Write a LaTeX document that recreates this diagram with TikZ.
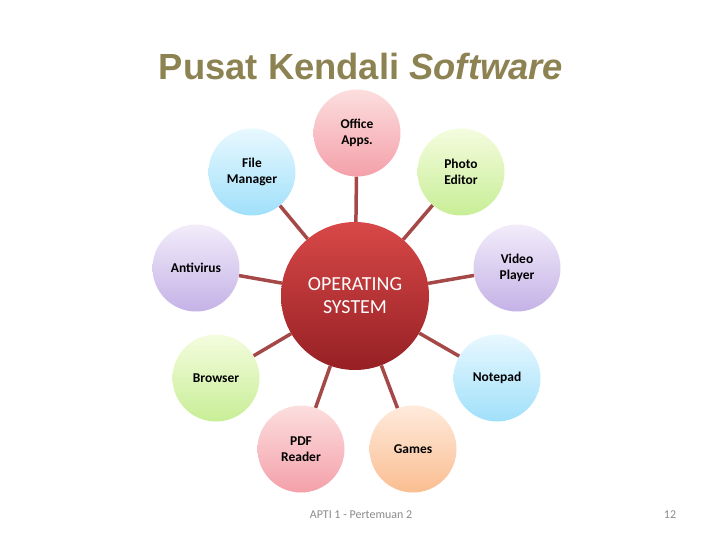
\documentclass[tikz,border=0pt]{standalone}
\usepackage{fontspec}
\setmainfont{Carlito}
\newfontfamily\titlefont{Liberation Sans}
\definecolor{titlec}{RGB}{140,130,82}
\definecolor{linkc}{RGB}{165,72,72}
\definecolor{footc}{RGB}{138,138,138}
\begin{document}
\begin{tikzpicture}[x=1bp,y=-1bp,
  sat/.style={circle, minimum size=87bp, inner sep=0pt, align=center,
    font=\bfseries\fontsize{13.5}{15.5}\selectfont, text=black},
  link/.style={draw=linkc, line width=3.5bp},
  pinkc/.style={top color={rgb,255:red,252;green,222;blue,222}, bottom color={rgb,255:red,244;green,160;blue,170}},
  cyanc/.style={top color={rgb,255:red,232;green,248;blue,255}, bottom color={rgb,255:red,160;green,224;blue,250}},
  greenc/.style={top color={rgb,255:red,244;green,252;blue,222}, bottom color={rgb,255:red,200;green,238;blue,150}},
  lavc/.style={top color={rgb,255:red,242;green,236;blue,250}, bottom color={rgb,255:red,196;green,178;blue,230}},
  peachc/.style={top color={rgb,255:red,255;green,234;blue,220}, bottom color={rgb,255:red,250;green,190;blue,145}}]
\useasboundingbox (0,0) rectangle (720,540);
\node[font=\titlefont\bfseries\fontsize{36.5}{42}\selectfont, text=titlec] (title) at (361,67) {Pusat Kendali \textit{Software}};

\node[circle, minimum size=148bp, inner sep=0pt, align=center,
  top color={rgb,255:red,216;green,72;blue,72}, bottom color={rgb,255:red,150;green,32;blue,36},
  text=white, font=\fontsize{20}{23}\selectfont] (os) at (355,296) {OPERATING\\SYSTEM};

\node[sat, pinkc] (office) at (357,133) {Office\\Apps.};
\node[sat, cyanc] (file) at (252,172) {File\\Manager};
\node[sat, greenc] (photo) at (461,172) {Photo\\Editor};
\node[sat, lavc] (anti) at (196,268) {Antivirus};
\node[sat, lavc] (video) at (517,268) {Video\\Player};
\node[sat, greenc] (browser) at (216,378) {Browser};
\node[sat, cyanc] (notepad) at (497,378) {Notepad};
\node[sat, pinkc] (pdf) at (301,449) {PDF\\Reader};
\node[sat, peachc] (games) at (413,449) {Games};

\foreach \s in {office,file,photo,anti,video,browser,notepad,pdf,games}
  \draw[link] (os) -- (\s);

\node[text=footc, font=\fontsize{12}{14}\selectfont] (foot) at (361,515) {APTI 1 - Pertemuan 2};
\node[text=footc, font=\fontsize{12}{14}\selectfont] (page) at (670,515) {12};
\end{tikzpicture}
\end{document}
